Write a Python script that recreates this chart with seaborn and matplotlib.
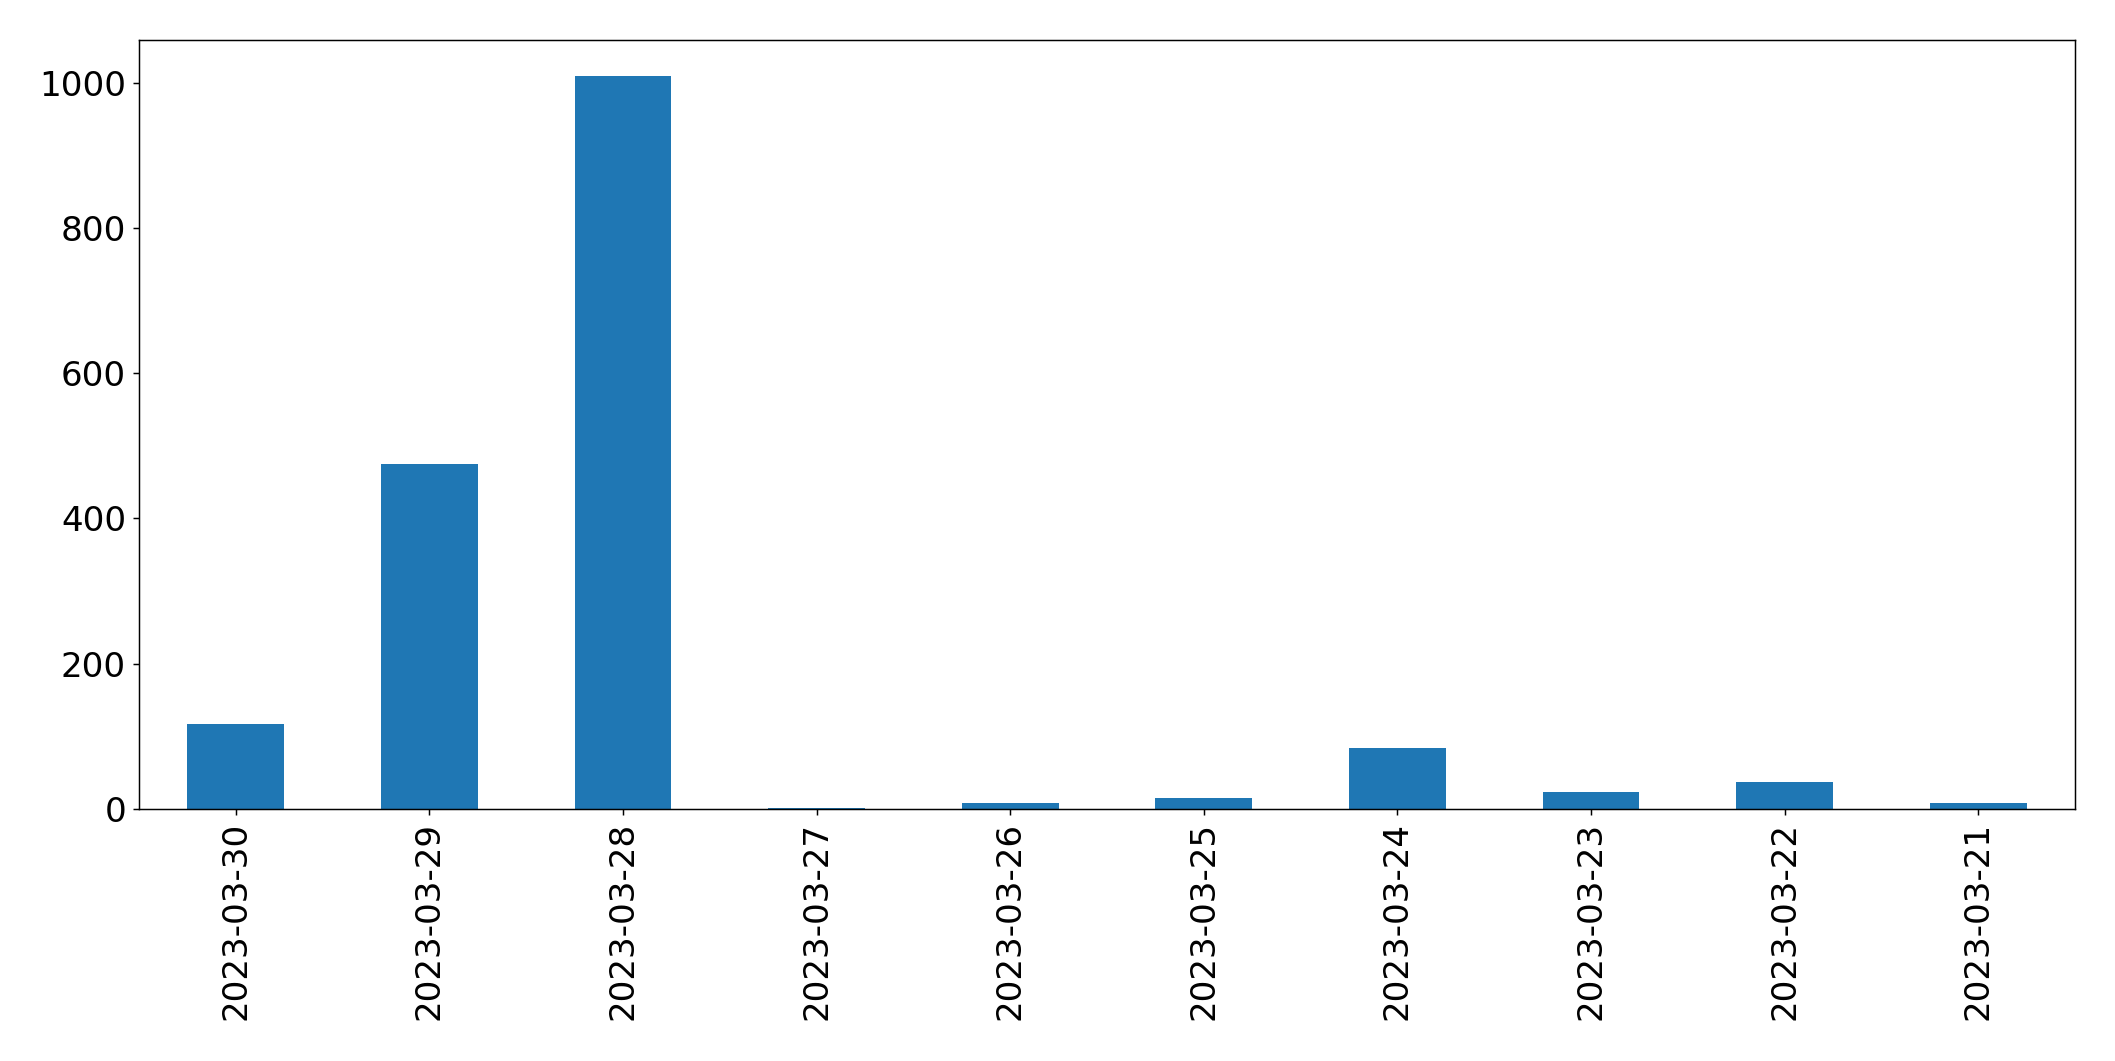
import matplotlib
matplotlib.use("Agg")
import matplotlib.pyplot as plt
import seaborn as sns
import pandas as pd

dates = ["2023-03-30", "2023-03-29", "2023-03-28", "2023-03-27", "2023-03-26",
         "2023-03-25", "2023-03-24", "2023-03-23", "2023-03-22", "2023-03-21"]
counts = [117, 475, 1009, 2, 8, 15, 84, 23, 37, 8]

df = pd.DataFrame({"date": dates, "count": counts})

plt.rcParams["font.size"] = 18.5
fig = plt.figure(figsize=(2115 / 133, 1061 / 133), dpi=133)
ax = fig.add_axes([139 / 2115, 1 - 809 / 1061, (2075 - 139) / 2115, (809 - 39.5) / 1061])

sns.barplot(data=df, x="date", y="count", order=dates, color="#1f77b4",
            saturation=1, width=0.5, ax=ax)
ax.set_xlim(-0.5, len(dates) - 0.5)
ax.set_ylim(0, max(counts) * 1.05)
ax.set_xlabel("")
ax.set_ylabel("")
ax.tick_params(axis="both", labelsize=18.5)
plt.setp(ax.get_xticklabels(), rotation=90)
for s in ax.spines.values():
    s.set_visible(True)
    s.set_color("black")

fig.savefig("out.png", dpi=133)
